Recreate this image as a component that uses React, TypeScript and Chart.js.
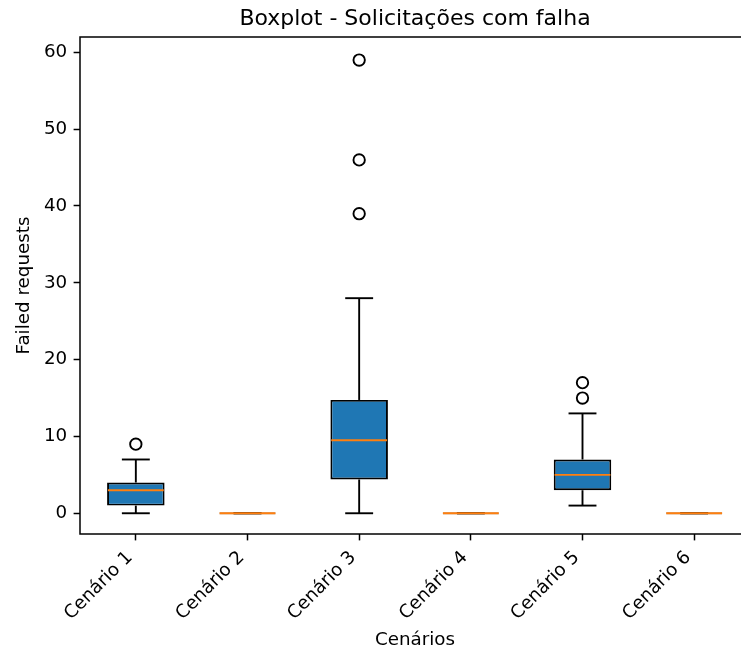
import React, { useEffect, useRef } from 'react';
import { Chart, registerables } from 'chart.js';

Chart.register(...registerables);

const categories = ['Cenário 1', 'Cenário 2', 'Cenário 3', 'Cenário 4', 'Cenário 5', 'Cenário 6'];
const whiskerLow = [0, 0, 0, 0, 1, 0];
const q1 = [1, 0, 4.4, 0, 3, 0];
const median = [3, 0, 9.5, 0, 5, 0];
const q3 = [4, 0, 14.75, 0, 7, 0];
const whiskerHigh = [7, 0, 28, 0, 13, 0];
const outliers: number[][] = [[9], [], [39, 46, 59], [], [15, 17], []];
const yTicks = [0, 10, 20, 30, 40, 50, 60];
const yMin = -2.7;
const yMax = 62.0;

const titleText = 'Boxplot - Solicitações com falha';
const xTitle = 'Cenários';
const yTitle = 'Failed requests';

const FONT = "'DejaVu Sans', sans-serif";
const LABEL_SIZE = 18.3;

const boxPlugin = {
  id: 'boxWhiskers',
  afterDatasetsDraw(chart: any) {
    const { ctx, scales, chartArea } = chart;
    const x = scales.x;
    const y = scales.y;
    const band = x.getPixelForValue(1) - x.getPixelForValue(0);
    const boxW = band * 0.5;
    const capW = boxW / 2;
    const line = (x1: number, y1: number, x2: number, y2: number) => {
      ctx.beginPath();
      ctx.moveTo(x1, y1);
      ctx.lineTo(x2, y2);
      ctx.stroke();
    };
    ctx.save();
    ctx.lineCap = 'butt';
    categories.forEach((_, i) => {
      const cx = x.getPixelForValue(i);
      const yLo = y.getPixelForValue(whiskerLow[i]);
      const yQ1 = y.getPixelForValue(q1[i]);
      const yMed = y.getPixelForValue(median[i]);
      const yQ3 = y.getPixelForValue(q3[i]);
      const yHi = y.getPixelForValue(whiskerHigh[i]);
      ctx.strokeStyle = '#000';
      ctx.lineWidth = 1.9;
      line(cx, yQ1, cx, yLo);
      line(cx, yQ3, cx, yHi);
      line(cx - capW / 2, yLo, cx + capW / 2, yLo);
      line(cx - capW / 2, yHi, cx + capW / 2, yHi);
      if (q1[i] === q3[i]) {
        ctx.strokeStyle = 'rgba(0,0,0,0.35)';
        line(cx - boxW / 2, yQ1, cx + boxW / 2, yQ1);
      }
      ctx.strokeStyle = '#ff7f0e';
      ctx.lineWidth = 1.9;
      line(cx - boxW / 2, yMed, cx + boxW / 2, yMed);
    });
    ctx.strokeStyle = '#000';
    ctx.lineWidth = 1.5;
    ctx.strokeRect(chartArea.left, chartArea.top, chartArea.right - chartArea.left, chartArea.bottom - chartArea.top);
    ctx.restore();
  },
  afterDraw(chart: any) {
    const { ctx, chartArea } = chart;
    ctx.save();
    ctx.fillStyle = '#000';
    ctx.font = `22px ${FONT}`;
    ctx.textAlign = 'center';
    ctx.textBaseline = 'alphabetic';
    ctx.fillText(titleText, (chartArea.left + chartArea.right) / 2, 25);
    ctx.restore();
  },
};

export default function App() {
  const ref = useRef<HTMLCanvasElement | null>(null);

  useEffect(() => {
    if (!ref.current) return;
    const labelFont = { family: FONT, size: LABEL_SIZE };
    const chart = new Chart(ref.current, {
      type: 'bar',
      data: {
        labels: categories,
        datasets: [
          {
            type: 'bar',
            label: 'box',
            data: categories.map((_, i) => [q1[i], q3[i]]) as any,
            backgroundColor: '#1f77b4',
            borderColor: '#000',
            borderWidth: 1.9,
            borderSkipped: false,
            barPercentage: 0.515,
            categoryPercentage: 1,
            grouped: false,
          } as any,
          {
            type: 'scatter',
            label: 'outliers',
            data: outliers.flatMap((vals, i) => vals.map((v) => ({ x: categories[i], y: v }))) as any,
            pointRadius: 5.7,
            pointBorderWidth: 1.9,
            pointBorderColor: '#000',
            pointBackgroundColor: 'rgba(0,0,0,0)',
            showLine: false,
          } as any,
        ],
      },
      options: {
        responsive: false,
        maintainAspectRatio: false,
        animation: false,
        events: [],
        layout: { padding: { top: 37, right: 10, bottom: 0, left: 0 } },
        plugins: {
          legend: { display: false },
          tooltip: { enabled: false },
          title: { display: false },
        },
        scales: {
          x: {
            type: 'category',
            offset: true,
            grid: {
              display: true,
              drawOnChartArea: false,
              drawTicks: true,
              tickLength: 6.4,
              tickWidth: 1.5,
              tickColor: '#000',
              offset: false,
            },
            border: { display: false },
            ticks: {
              color: '#000',
              font: labelFont,
              minRotation: 45,
              maxRotation: 45,
              autoSkip: false,
              padding: 6.4,
              labelOffset: -6,
            },
            title: {
              display: true,
              text: xTitle,
              color: '#000',
              font: labelFont,
              padding: { top: 0, bottom: 1 },
            },
            afterFit: (s: any) => {
              s.height = 118;
            },
          },
          y: {
            type: 'linear',
            min: yMin,
            max: yMax,
            afterBuildTicks: (s: any) => {
              s.ticks = yTicks.map((v) => ({ value: v }));
            },
            grid: {
              display: true,
              drawOnChartArea: false,
              drawTicks: true,
              tickLength: 6.4,
              tickWidth: 1.5,
              tickColor: '#000',
            },
            border: { display: false },
            ticks: {
              color: '#000',
              font: labelFont,
              padding: 6.4,
            },
            title: {
              display: true,
              text: yTitle,
              color: '#000',
              font: labelFont,
              padding: { top: 13, bottom: 0 },
            },
            afterFit: (s: any) => {
              s.width = 80;
            },
          },
        } as any,
      },
      plugins: [boxPlugin],
    });
    return () => chart.destroy();
  }, []);

  return (
    <div
      style={{
        position: 'absolute',
        left: 0,
        top: 0,
        width: 741,
        height: 652,
        overflow: 'hidden',
        background: '#fff',
      }}
    >
      <canvas ref={ref} width={760} height={652} style={{ display: 'block' }} />
    </div>
  );
}
